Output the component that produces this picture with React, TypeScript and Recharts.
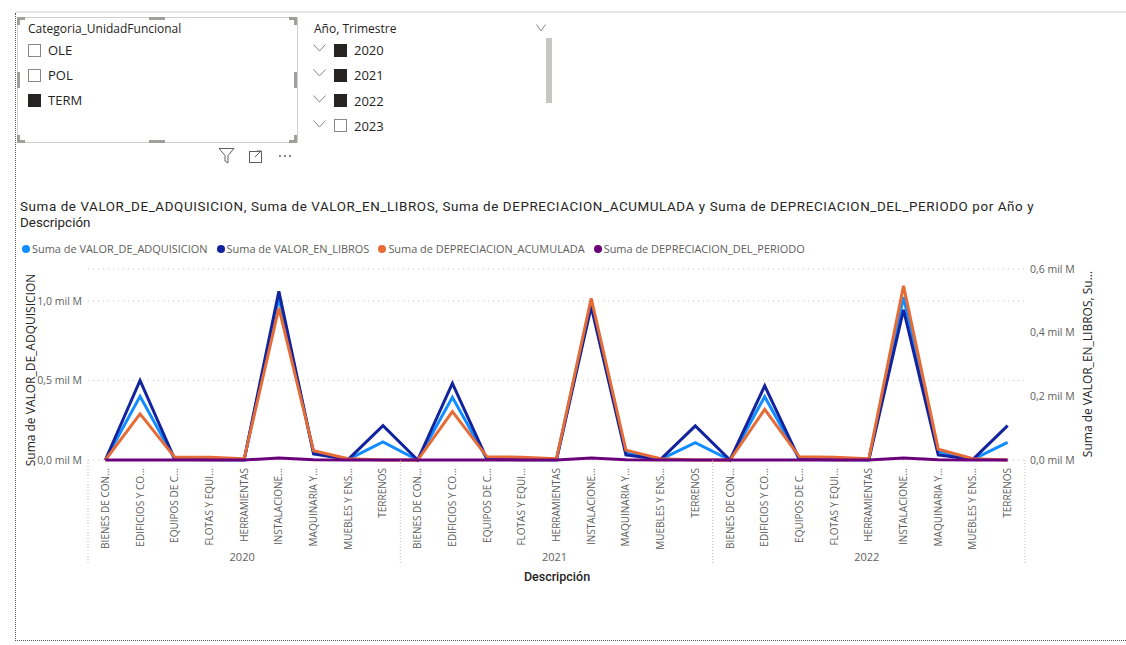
import { LineChart, Line, XAxis, YAxis, CartesianGrid } from 'recharts'

const YEARS = ['2020', '2021', '2022']
const DESCRIPCIONES = [
  'BIENES DE CON...',
  'EDIFICIOS Y CO...',
  'EQUIPOS DE C...',
  'FLOTAS Y EQUI...',
  'HERRAMIENTAS',
  'INSTALACIONE...',
  'MAQUINARIA Y...',
  'MUEBLES Y ENS...',
  'TERRENOS',
]

// valores en "mil M", un bloque de 9 por año (2020, 2021, 2022)
const VALOR_ADQUISICION = [
  0, 0.4, 0.005, 0.004, 0.002, 1.02, 0.05, 0.004, 0.113,
  0, 0.394, 0.005, 0.004, 0.002, 1.0, 0.045, 0.004, 0.109,
  0, 0.398, 0.005, 0.004, 0.002, 1.023, 0.052, 0.004, 0.111,
]
const VALOR_LIBROS = [
  0, 0.25, 0.002, 0.001, 0.001, 0.53, 0.019, 0.002, 0.108,
  0, 0.241, 0.002, 0.001, 0.001, 0.482, 0.016, 0.002, 0.107,
  0, 0.233, 0.002, 0.001, 0.001, 0.472, 0.016, 0.002, 0.108,
]
const DEPRECIACION_ACUM = [
  0, 0.145, 0.009, 0.009, 0.004, 0.478, 0.029, 0.004, 0,
  0, 0.152, 0.01, 0.009, 0.004, 0.508, 0.031, 0.004, 0,
  0, 0.159, 0.01, 0.009, 0.004, 0.547, 0.034, 0.004, 0,
]
const DEPRECIACION_PERIODO = [
  0, 0, 0, 0, 0, 0.006, 0.001, 0, 0,
  0, 0, 0, 0, 0, 0.006, 0.001, 0, 0,
  0, 0, 0, 0, 0, 0.006, 0.001, 0, 0,
]

const LEFT_TICKS = [0, 0.5, 1.0]
const RIGHT_TICKS = [0, 0.2, 0.4, 0.6]

const SERIES = [
  { key: 'adq', name: 'Suma de VALOR_DE_ADQUISICION', color: '#118DFF', axis: 'left' },
  { key: 'libros', name: 'Suma de VALOR_EN_LIBROS', color: '#12239E', axis: 'right' },
  { key: 'acum', name: 'Suma de DEPRECIACION_ACUMULADA', color: '#E66C37', axis: 'right' },
  { key: 'periodo', name: 'Suma de DEPRECIACION_DEL_PERIODO', color: '#6B007B', axis: 'right' },
]

const rows = YEARS.flatMap((year, yi) =>
  DESCRIPCIONES.map((desc, di) => {
    const i = yi * DESCRIPCIONES.length + di
    return {
      id: `${year}|${desc}`,
      year,
      desc,
      adq: VALOR_ADQUISICION[i],
      libros: VALOR_LIBROS[i],
      acum: DEPRECIACION_ACUM[i],
      periodo: DEPRECIACION_PERIODO[i],
    }
  })
)

const FONT = "'Open Sans', sans-serif"
const TITLE_FONT = "Roboto, sans-serif"
const GREY = '#605E5C'
const DARK = '#252423'

const PLOT_LEFT = 88
const PLOT_RIGHT = 1025
const PLOT_TOP = 269
const PLOT_BOTTOM = 460
const HALF = (PLOT_RIGHT - PLOT_LEFT) / rows.length / 2

const fmt = (v: number) => v.toFixed(1).replace('.', ',') + ' mil M'

function DescTick(props: any) {
  const { x, y, payload, index } = props
  const row = rows.find((r) => r.id === payload.value)
  const n = DESCRIPCIONES.length
  return (
    <g>
      <text
        transform={`translate(${x},${y}) rotate(-90)`}
        textAnchor="end"
        dy={3.5}
        fontSize={10}
        fontFamily={FONT}
        fill={GREY}
      >
        {row?.desc}
      </text>
      {index % n === 0 && (
        <line x1={x - HALF} x2={x - HALF} y1={y - 8} y2={y + 97} stroke="#bbb" strokeDasharray="1 2" />
      )}
      {index === rows.length - 1 && (
        <line x1={x + HALF} x2={x + HALF} y1={y - 8} y2={y + 97} stroke="#bbb" strokeDasharray="1 2" />
      )}
      {index % n === Math.floor(n / 2) && (
        <text x={x - 2} y={y + 93} textAnchor="middle" fontSize={11} fontFamily={FONT} fill={GREY}>
          {row?.year}
        </text>
      )}
    </g>
  )
}

function Checkbox({ checked }: { checked: boolean }) {
  return (
    <div
      style={{
        width: 11,
        height: 11,
        border: `1px solid ${checked ? DARK : '#8a8886'}`,
        background: checked ? DARK : '#fff',
      }}
    />
  )
}

function Chevron({ x, y, w = 13 }: { x: number; y: number; w?: number }) {
  return (
    <svg style={{ position: 'absolute', left: x, top: y }} width={w} height={8}>
      <polyline points={`0.5,0.5 ${w / 2},${7} ${w - 0.5},0.5`} fill="none" stroke="#8a8886" strokeWidth={1} />
    </svg>
  )
}

export default function App() {
  const handle = '#a19f9d'
  return (
    <div style={{ position: 'relative', width: 1126, height: 645, background: '#fff', overflow: 'hidden', fontFamily: FONT }}>
      <style>{'body{margin:0}'}</style>

      {/* marco de la página */}
      <div style={{ position: 'absolute', left: 15, top: 11, width: 1111, height: 2, background: '#e6e6e6' }} />
      <div style={{ position: 'absolute', left: 15, top: 13, width: 0, height: 628, borderLeft: '1px dotted #555' }} />
      <div style={{ position: 'absolute', left: 15, top: 640, width: 1111, height: 0, borderTop: '1px dotted #555' }} />

      {/* slicer Categoria_UnidadFuncional */}
      <div style={{ position: 'absolute', left: 17, top: 17, width: 279, height: 124, border: '1px solid #d2d0ce' }} />
      {[
        [17, 17, 8, 3], [17, 17, 3, 8], [289, 17, 8, 3], [294, 17, 3, 8],
        [17, 140, 8, 3], [17, 135, 3, 8], [289, 140, 8, 3], [294, 135, 3, 8],
        [149, 17, 16, 3], [149, 140, 16, 3], [17, 72, 3, 16], [294, 72, 3, 16],
      ].map(([l, t, w, h], i) => (
        <div key={i} style={{ position: 'absolute', left: l, top: t, width: w, height: h, background: handle }} />
      ))}
      <div style={{ position: 'absolute', left: 28, top: 20, fontSize: 12, color: DARK }}>Categoria_UnidadFuncional</div>
      {[
        ['OLE', false],
        ['POL', false],
        ['TERM', true],
      ].map(([label, checked], i) => (
        <div key={label as string} style={{ position: 'absolute', left: 28, top: 43 + i * 25, display: 'flex', alignItems: 'center', gap: 7 }}>
          <Checkbox checked={checked as boolean} />
          <span style={{ fontSize: 13, color: DARK, lineHeight: '14px' }}>{label as string}</span>
        </div>
      ))}
      {/* iconos del visual */}
      <svg style={{ position: 'absolute', left: 218, top: 147 }} width={80} height={18}>
        <path d="M1,1.5 H16 L10,8.5 V16 L7,14 V8.5 Z" fill="none" stroke={GREY} strokeWidth={1} />
        <rect x={31.5} y={4.5} width={12} height={11} fill="none" stroke={GREY} strokeWidth={1} />
        <path d="M37,10 L43,4 M39,4 H43.5 V8" fill="none" stroke={GREY} strokeWidth={1} />
        <circle cx={62} cy={9} r={1} fill={GREY} />
        <circle cx={67} cy={9} r={1} fill={GREY} />
        <circle cx={72} cy={9} r={1} fill={GREY} />
      </svg>

      {/* slicer Año, Trimestre */}
      <div style={{ position: 'absolute', left: 314, top: 20, fontSize: 12, color: DARK }}>Año, Trimestre</div>
      <Chevron x={536} y={24} w={10} />
      {[
        ['2020', true],
        ['2021', true],
        ['2022', true],
        ['2023', false],
      ].map(([label, checked], i) => (
        <div key={label as string}>
          <Chevron x={313} y={44 + i * 25.3} />
          <div style={{ position: 'absolute', left: 334, top: 43 + i * 25.3, display: 'flex', alignItems: 'center', gap: 7 }}>
            <Checkbox checked={checked as boolean} />
            <span style={{ fontSize: 13, color: DARK, lineHeight: '14px' }}>{label as string}</span>
          </div>
        </div>
      ))}
      <div style={{ position: 'absolute', left: 546, top: 38, width: 6, height: 65, background: '#c8c6c4' }} />

      {/* título y leyenda */}
      <div style={{ position: 'absolute', left: 20, top: 199, fontFamily: TITLE_FONT, fontSize: 13.4, color: DARK, lineHeight: '16px', whiteSpace: 'nowrap' }}>
        <span style={{ letterSpacing: 0.6 }}>
          Suma de VALOR_DE_ADQUISICION, Suma de VALOR_EN_LIBROS, Suma de DEPRECIACION_ACUMULADA y Suma de DEPRECIACION_DEL_PERIODO por Año y
        </span>
        <br />
        Descripción
      </div>
      <div style={{ position: 'absolute', left: 22, top: 241, display: 'flex', gap: 9, fontSize: 10.95, color: GREY }}>
        {SERIES.map((s) => (
          <div key={s.key} style={{ display: 'flex', alignItems: 'center', gap: 2 }}>
            <div style={{ width: 8, height: 8, borderRadius: 4, background: s.color }} />
            <span>{s.name}</span>
          </div>
        ))}
      </div>

      {/* títulos de ejes */}
      <div style={{ position: 'absolute', left: 30, top: 370, transform: 'translate(-50%,-50%) rotate(-90deg)', whiteSpace: 'nowrap', fontSize: 12, color: DARK }}>
        Suma de VALOR_DE_ADQUISICION
      </div>
      <div style={{ position: 'absolute', left: 1087, top: 364, transform: 'translate(-50%,-50%) rotate(-90deg)', whiteSpace: 'nowrap', fontSize: 12, color: DARK }}>
        Suma de VALOR_EN_LIBROS, Su...
      </div>
      <div style={{ position: 'absolute', left: 557, top: 569, transform: 'translateX(-50%)', fontFamily: TITLE_FONT, fontSize: 12.5, fontWeight: 500, color: DARK }}>
        Descripción
      </div>

      <div style={{ position: 'absolute', left: 0, top: 0 }}>
        <LineChart
          width={1126}
          height={645}
          data={rows}
          margin={{ top: PLOT_TOP, right: 1126 - PLOT_RIGHT - 101, bottom: 645 - PLOT_BOTTOM - 120, left: 0 }}
        >
          <CartesianGrid yAxisId="left" vertical={false} stroke="#c8c6c4" strokeDasharray="1 4" />
          <XAxis
            dataKey="id"
            interval={0}
            height={120}
            tickLine={false}
            axisLine={false}
            tickSize={0}
            tickMargin={8}
            padding={{ left: HALF, right: HALF }}
            tick={<DescTick />}
          />
          <YAxis
            yAxisId="left"
            width={PLOT_LEFT}
            domain={[0, 1.2]}
            ticks={LEFT_TICKS}
            tickFormatter={fmt}
            axisLine={false}
            tickLine={false}
            tickSize={4}
            tickMargin={2}
            tick={{ fill: GREY, fontSize: 10.5, fontFamily: FONT }}
          />
          <YAxis
            yAxisId="right"
            orientation="right"
            width={101}
            domain={[0, 0.6]}
            ticks={RIGHT_TICKS}
            tickFormatter={fmt}
            axisLine={false}
            tickLine={false}
            tickSize={3}
            tickMargin={2}
            tick={{ fill: GREY, fontSize: 10.5, fontFamily: FONT, textAnchor: 'start' }}
          />
          {SERIES.map((s) => (
            <Line
              key={s.key}
              yAxisId={s.axis}
              dataKey={s.key}
              name={s.name}
              stroke={s.color}
              strokeWidth={3}
              dot={false}
              activeDot={false}
              isAnimationActive={false}
            />
          ))}
        </LineChart>
      </div>
    </div>
  )
}
